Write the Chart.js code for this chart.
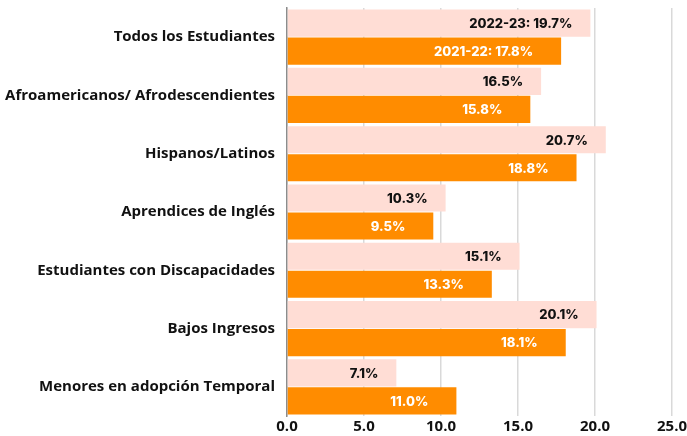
<!DOCTYPE html>
<html>
<head>
<meta charset="utf-8">
<script src="https://cdn.jsdelivr.net/npm/chart.js@4"></script>
<style>
  html, body { margin: 0; padding: 0; background: #fff; }
  #wrap { width: 687px; height: 436px; }
</style>
</head>
<body>
<div id="wrap"><canvas id="chart"></canvas></div>
<script>
// Data
const categories = [
  'Todos los Estudiantes',
  'Afroamericanos/ Afrodescendientes',
  'Hispanos/Latinos',
  'Aprendices de Inglés',
  'Estudiantes con Discapacidades',
  'Bajos Ingresos',
  'Menores en adopción Temporal'
];
const seriesNames = ['2022-23', '2021-22'];
const values2223 = [19.7, 16.5, 20.7, 10.3, 15.1, 20.1, 7.1];
const values2122 = [17.8, 15.8, 18.8, 9.5, 13.3, 18.1, 11.0];
const xTicks = [0, 5, 10, 15, 20, 25];

// value labels drawn inside the bar end
const valueLabels = {
  id: 'valueLabels',
  afterDatasetsDraw(chart) {
    const ctx = chart.ctx;
    ctx.save();
    ctx.font = '800 13px Inter';
    ctx.textAlign = 'right';
    ctx.textBaseline = 'middle';
    chart.data.datasets.forEach((ds, di) => {
      const meta = chart.getDatasetMeta(di);
      meta.data.forEach((bar, i) => {
        let txt = ds.data[i].toFixed(1) + '%';
        if (i === 0) txt = ds.label + ': ' + txt;
        ctx.fillStyle = di === 0 ? '#111111' : '#ffffff';
        const pad = di === 0 ? 18 : 28;
        ctx.fillText(txt, bar.x - pad, bar.y + 1);
      });
    });
    ctx.restore();
  }
};

new Chart(document.getElementById('chart'), {
  type: 'bar',
  data: {
    labels: categories,
    datasets: [
      {
        label: seriesNames[0],
        data: values2223,
        backgroundColor: '#ffddd5',
        borderWidth: 0,
        categoryPercentage: 0.96,
        barPercentage: 0.97
      },
      {
        label: seriesNames[1],
        data: values2122,
        backgroundColor: '#ff8c00',
        borderWidth: 0,
        categoryPercentage: 0.96,
        barPercentage: 0.97
      }
    ]
  },
  options: {
    indexAxis: 'y',
    responsive: true,
    maintainAspectRatio: false,
    animation: false,
    layout: { padding: { top: 8, right: 15, bottom: 0, left: 0 } },
    plugins: {
      legend: { display: false },
      tooltip: { enabled: false }
    },
    scales: {
      x: {
        min: 0,
        max: 25,
        afterBuildTicks: (scale) => { scale.ticks = xTicks.map(v => ({ value: v })); },
        afterFit: (scale) => {
          scale.paddingLeft = 0;
          scale.paddingRight = 0;
          scale.height = 20;
        },
        grid: { color: '#d9d9d9', lineWidth: 1.5, drawTicks: false },
        border: { display: false },
        ticks: {
          padding: 2,
          color: '#111111',
          font: { family: 'Open Sans', weight: '700', size: 15 },
          callback: (v) => Number(v).toFixed(1)
        }
      },
      y: {
        afterFit: (scale) => {
          scale.width = 287;
          scale.paddingTop = 0;
          scale.paddingBottom = 0;
        },
        grid: { display: false, drawTicks: false },
        border: { display: true, color: '#8c8c8c', width: 1.5 },
        ticks: {
          padding: 12,
          color: '#111111',
          font: { family: 'Open Sans', weight: '700', size: 15 }
        }
      }
    }
  },
  plugins: [valueLabels]
});
</script>
</body>
</html>
